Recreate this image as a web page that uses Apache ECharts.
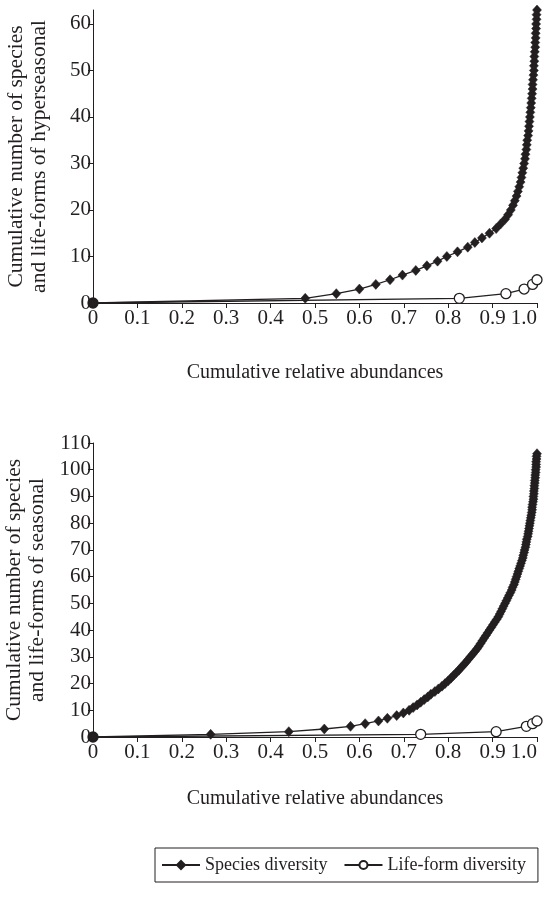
<!DOCTYPE html>
<html>
<head>
<meta charset="utf-8">
<script src="https://cdn.jsdelivr.net/npm/echarts@6/dist/echarts.min.js"></script>
<style>
  html, body { margin: 0; padding: 0; background: #fff; }
  #chart { width: 544px; height: 897px; }
</style>
</head>
<body>
<div id="chart"></div>
<script>
// hyperseasonal (top panel)
let hyperSpeciesX = [0, 0.478, 0.548, 0.600, 0.637, 0.669, 0.697, 0.727, 0.752, 0.776, 0.797, 0.821, 0.844, 0.860, 0.876, 0.893, 0.908, 0.918, 0.928,
  0.935, 0.941, 0.946, 0.950, 0.954, 0.957, 0.960, 0.963, 0.965, 0.967, 0.969, 0.971, 0.973, 0.974, 0.976, 0.977, 0.978, 0.980,
  0.981, 0.982, 0.983, 0.984, 0.985, 0.986, 0.987, 0.988, 0.989, 0.990, 0.990, 0.991, 0.992, 0.993, 0.993, 0.994, 0.994, 0.995,
  0.996, 0.996, 0.997, 0.997, 0.998, 0.998, 0.999, 0.999, 1.000];
let hyperSpeciesY = [0, 1, 2, 3, 4, 5, 6, 7, 8, 9, 10, 11, 12, 13, 14, 15, 16, 17, 18,
  19, 20, 21, 22, 23, 24, 25, 26, 27, 28, 29, 30, 31, 32, 33, 34, 35, 36,
  37, 38, 39, 40, 41, 42, 43, 44, 45, 46, 47, 48, 49, 50, 51, 52, 53, 54,
  55, 56, 57, 58, 59, 60, 61, 62, 63];
let hyperLifeX = [0, 0.825, 0.930, 0.971, 0.990, 1.000];
let hyperLifeY = [0, 1, 2, 3, 4, 5];

// seasonal (bottom panel)
let seasSpeciesX = [0, 0.265, 0.441, 0.521, 0.580, 0.613, 0.643, 0.663, 0.684, 0.699, 0.712,
  0.721, 0.730, 0.738, 0.746, 0.754, 0.761, 0.770, 0.778, 0.786, 0.793,
  0.800, 0.806, 0.812, 0.818, 0.824, 0.829, 0.835, 0.840, 0.845, 0.850,
  0.855, 0.860, 0.865, 0.869, 0.873, 0.877, 0.881, 0.885, 0.889, 0.893,
  0.897, 0.901, 0.905, 0.909, 0.913, 0.916, 0.919, 0.922, 0.925, 0.928,
  0.931, 0.934, 0.937, 0.940, 0.943, 0.945, 0.948, 0.950, 0.952, 0.954,
  0.956, 0.958, 0.960, 0.962, 0.964, 0.966, 0.968, 0.969, 0.971, 0.972,
  0.974, 0.975, 0.976, 0.977, 0.979, 0.980, 0.981, 0.982, 0.983, 0.984,
  0.985, 0.986, 0.987, 0.988, 0.989, 0.989, 0.990, 0.991, 0.992, 0.992,
  0.993, 0.993, 0.994, 0.994, 0.995, 0.995, 0.996, 0.996, 0.997, 0.997,
  0.998, 0.998, 0.998, 0.999, 0.999, 1.000];
let seasSpeciesY = [0, 1, 2, 3, 4, 5, 6, 7, 8, 9, 10,
  11, 12, 13, 14, 15, 16, 17, 18, 19, 20,
  21, 22, 23, 24, 25, 26, 27, 28, 29, 30,
  31, 32, 33, 34, 35, 36, 37, 38, 39, 40,
  41, 42, 43, 44, 45, 46, 47, 48, 49, 50,
  51, 52, 53, 54, 55, 56, 57, 58, 59, 60,
  61, 62, 63, 64, 65, 66, 67, 68, 69, 70,
  71, 72, 73, 74, 75, 76, 77, 78, 79, 80,
  81, 82, 83, 84, 85, 86, 87, 88, 89, 90,
  91, 92, 93, 94, 95, 96, 97, 98, 99, 100,
  101, 102, 103, 104, 105, 106];
let seasLifeX = [0, 0.738, 0.908, 0.976, 0.990, 1.000];
let seasLifeY = [0, 1, 2, 4, 5, 6];

let xTickLabels = ['0', '0.1', '0.2', '0.3', '0.4', '0.5', '0.6', '0.7', '0.8', '0.9', '1.0'];

let font = '"Liberation Serif", "DejaVu Serif", serif';
let ink = '#231f20';

function pairs(xs, ys) {
    return xs.map((x, i) => [x, ys[i]]);
}

function xAxisFor(gridIndex, gap) {
    return {
        type: 'value', gridIndex: gridIndex, min: 0, max: 1, interval: 0.1,
        name: 'Cumulative relative abundances', nameLocation: 'middle', nameGap: gap,
        nameTextStyle: { fontFamily: font, fontSize: 20, color: ink },
        axisLine: { lineStyle: { color: ink, width: 1 } },
        axisTick: { length: 5, lineStyle: { color: ink } },
        splitLine: { show: false },
        axisLabel: {
            fontFamily: font, fontSize: 21, color: ink, margin: 5,
            alignMaxLabel: 'right',
            formatter: (v) => xTickLabels[Math.round(v * 10)]
        }
    };
}

function yAxisFor(gridIndex, max, title) {
    return {
        type: 'value', gridIndex: gridIndex, min: 0, max: max, interval: 10,
        name: title, nameLocation: 'middle', nameGap: 42,
        nameTextStyle: { fontFamily: font, fontSize: 21.5, color: ink, lineHeight: 23 },
        axisLine: { show: true, lineStyle: { color: ink, width: 1 } },
        axisTick: { show: true, length: 5, lineStyle: { color: ink } },
        splitLine: { show: false },
        axisLabel: { fontFamily: font, fontSize: 21, color: ink, margin: 2 }
    };
}

function speciesSeries(idx, data) {
    return {
        name: 'Species diversity', type: 'line', xAxisIndex: idx, yAxisIndex: idx,
        data: data, symbol: 'diamond', symbolSize: [9, 10], z: 3,
        lineStyle: { color: ink, width: 1.3 },
        itemStyle: { color: ink, borderColor: ink, borderWidth: 0.5 }
    };
}

function lifeSeries(idx, data) {
    // the shared origin point reads as a solid dot in the original
    let items = data.map((d, i) => i === 0 ? { value: d, itemStyle: { color: ink } } : d);
    return {
        name: 'Life-form diversity', type: 'line', xAxisIndex: idx, yAxisIndex: idx,
        data: items, symbol: 'circle', symbolSize: 10, showAllSymbol: true, z: 2,
        lineStyle: { color: ink, width: 1.3 },
        itemStyle: { color: '#fff', borderColor: ink, borderWidth: 1.3 }
    };
}

let myChart = echarts.init(document.getElementById('chart'), null, { renderer: 'canvas' });

let option = {
    animation: false,
    backgroundColor: '#fff',
    grid: [
        { left: 93, top: 10, width: 444, height: 293, outerBoundsMode: 'none', containLabel: false },
        { left: 93, top: 443, width: 444, height: 294, outerBoundsMode: 'none', containLabel: false }
    ],
    xAxis: [xAxisFor(0, 60), xAxisFor(1, 52)],
    yAxis: [
        yAxisFor(0, 63, 'Cumulative number of species\nand life-forms of hyperseasonal'),
        yAxisFor(1, 110, 'Cumulative number of species\nand life-forms of seasonal')
    ],
    legend: {
        left: 155, top: 848,
        borderColor: ink, borderWidth: 1,
        padding: [8, 12, 8, 6],
        itemWidth: 38, itemHeight: 10, itemGap: 16,
        textStyle: { fontFamily: font, fontSize: 18, color: ink },
        data: ['Species diversity', 'Life-form diversity']
    },
    series: [
        lifeSeries(0, pairs(hyperLifeX, hyperLifeY)),
        speciesSeries(0, pairs(hyperSpeciesX, hyperSpeciesY)),
        lifeSeries(1, pairs(seasLifeX, seasLifeY)),
        speciesSeries(1, pairs(seasSpeciesX, seasSpeciesY))
    ]
};

myChart.setOption(option);
</script>
</body>
</html>
